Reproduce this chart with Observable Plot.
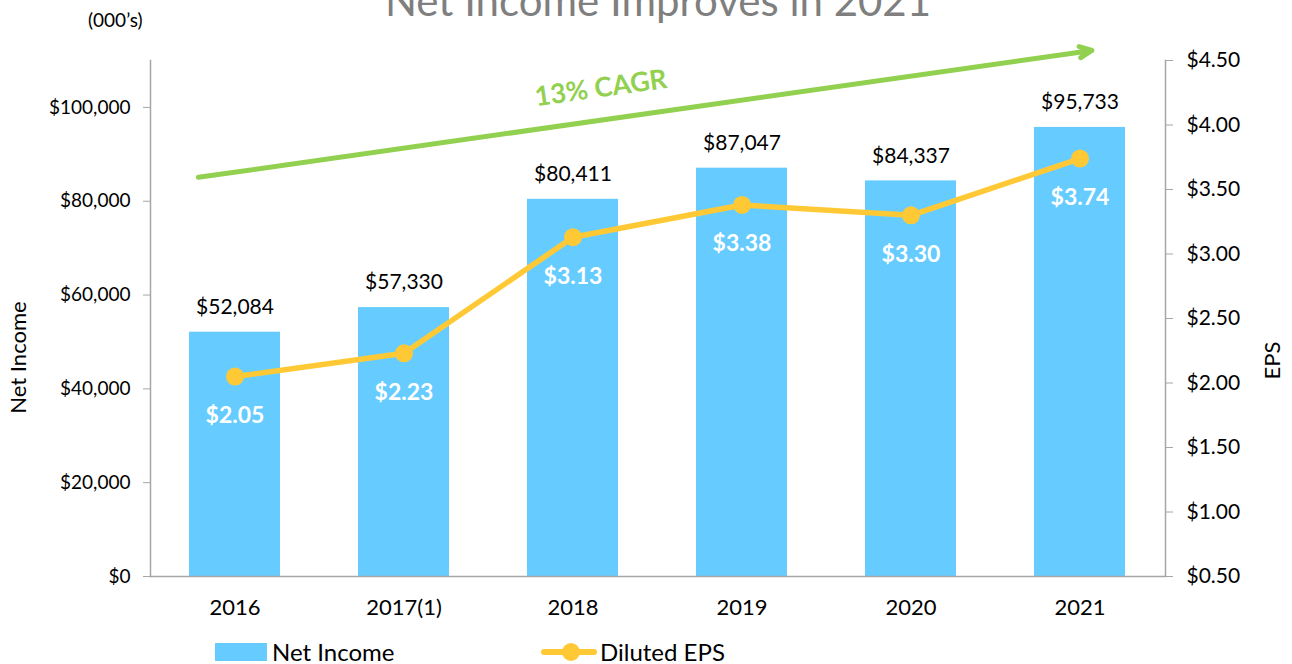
<!DOCTYPE html>
<html>
<head>
<meta charset="utf-8">
<script src="https://cdn.jsdelivr.net/npm/d3@7"></script>
<script src="https://cdn.jsdelivr.net/npm/@observablehq/plot@0.6"></script>
<style>
  html, body { margin: 0; padding: 0; background: #fff; overflow: hidden; }
  body { width: 1292px; height: 664px; position: relative; font-family: Lato, "Open Sans", sans-serif; }
  #title { position: absolute; left: 0; width: 1316px; text-align: center; top: -21px; font-size: 42px; line-height: 42px; color: #7f7f7f; white-space: nowrap; }
  #units { position: absolute; left: 88px; top: 8px; font-size: 19px; color: #000; }
  #chart { position: absolute; left: 0; top: 0; }
  .leg { position: absolute; font-size: 24px; color: #000; line-height: 24px; }
</style>
</head>
<body>
<div id="title">Net Income Improves in 2021</div>
<div id="units">(000’s)</div>
<div id="chart"></div>
<div id="legend"></div>
<script>
const years = ["2016", "2017(1)", "2018", "2019", "2020", "2021"];
const netIncome = [52084, 57330, 80411, 87047, 84337, 95733];
const eps = [2.05, 2.23, 3.13, 3.38, 3.30, 3.74];
const leftTicks = [0, 20000, 40000, 60000, 80000, 100000];
const rightTicks = [0.5, 1.0, 1.5, 2.0, 2.5, 3.0, 3.5, 4.0, 4.5];
const seriesNames = ["Net Income", "Diluted EPS"];
const cagrLabel = "13% CAGR";
const cagrStart = 86200;   // arrow start (left-axis units) at 2016
const cagrEnd = 111790;    // arrow end (left-axis units) at 2021
const cagrLabelY = 104050; // label position (left-axis units)

const BLUE = "#66CCFF", GOLD = "#FFC935", GREEN = "#92D050", AXIS = "#A6A6A6";
const leftMax = 110000, epsMin = 0.5, epsMax = 4.5;
const toLeft = e => (e - epsMin) / (epsMax - epsMin) * leftMax;
const fromLeft = v => v / leftMax * (epsMax - epsMin) + epsMin;

const data = years.map((y, i) => ({year: y, ni: netIncome[i], eps: eps[i], epsY: toLeft(eps[i])}));
const fmt = d3.format(",");

const chart = Plot.plot({
  width: 1292,
  height: 620,
  marginLeft: 150,
  marginRight: 127,
  marginTop: 60,
  marginBottom: 44,
  style: {fontFamily: "Lato, 'Open Sans', sans-serif", fontSize: "18px", color: "#000", background: "transparent"},
  x: {domain: years, paddingInner: 0.46, paddingOuter: 0.23, label: null},
  y: {domain: [0, leftMax], label: null},
  marks: [
    Plot.barY(data, {x: "year", y: "ni", fill: BLUE}),
    Plot.frame({anchor: "left", stroke: AXIS, strokeWidth: 1.5}),
    Plot.frame({anchor: "right", stroke: AXIS, strokeWidth: 1.5}),
    Plot.ruleY([0], {stroke: AXIS, strokeWidth: 1.5}),
    Plot.axisY(leftTicks, {anchor: "left", tickSize: 7, tickPadding: 13, stroke: AXIS, tickFormat: d => "$" + fmt(d), fontSize: 19, label: null}),
    Plot.axisY(rightTicks.map(toLeft), {anchor: "right", tickSize: 7, tickPadding: 14, stroke: AXIS, tickFormat: d => "$" + fromLeft(d).toFixed(2), fontSize: 21, label: null}),
    Plot.axisX({tickSize: 0, tickPadding: 23, fontSize: 22, label: null}),
    Plot.text(["Net Income"], {frameAnchor: "left", textAnchor: "middle", dx: -132, dy: 39, rotate: -90, fontSize: 22}),
    Plot.text(["EPS"], {frameAnchor: "right", textAnchor: "middle", dx: 107, dy: 42, rotate: -90, fontSize: 22}),
    Plot.text(data, {x: "year", y: "ni", text: d => "$" + fmt(d.ni), dy: -25, fontSize: 21, fill: "#000"}),
    Plot.lineY(data, {x: "year", y: "epsY", stroke: GOLD, strokeWidth: 5.5}),
    Plot.dot(data, {x: "year", y: "epsY", r: 9, fill: GOLD, stroke: "none"}),
    Plot.text(data, {x: "year", y: "epsY", text: d => "$" + d.eps.toFixed(2), dy: 39, fontSize: 23, fontWeight: "bold", fill: "#fff"}),
    Plot.arrow([{}], {x1: () => years[0], y1: () => cagrStart, x2: () => years[5], y2: () => cagrEnd, stroke: GREEN, strokeWidth: 5, insetStart: -37, insetEnd: -12, headLength: 4, headAngle: 50}),
    Plot.text([cagrLabel], {x: () => years[2], y: () => cagrLabelY, dx: 28, rotate: -8, fontSize: 27, fontWeight: "bold", fill: GREEN})
  ]
});
document.getElementById("chart").appendChild(chart);

// legend
const leg = document.getElementById("legend");
leg.innerHTML = `
  <div style="position:absolute;left:215px;top:643px;width:52px;height:18px;background:${BLUE}"></div>
  <div class="leg" style="left:272px;top:640px">${seriesNames[0]}</div>
  <div style="position:absolute;left:541px;top:649px;width:56px;height:6px;background:${GOLD};border-radius:3px"></div>
  <div style="position:absolute;left:562px;top:643px;width:18px;height:18px;background:${GOLD};border-radius:50%"></div>
  <div class="leg" style="left:600px;top:640px">${seriesNames[1]}</div>
`;
</script>
</body>
</html>
